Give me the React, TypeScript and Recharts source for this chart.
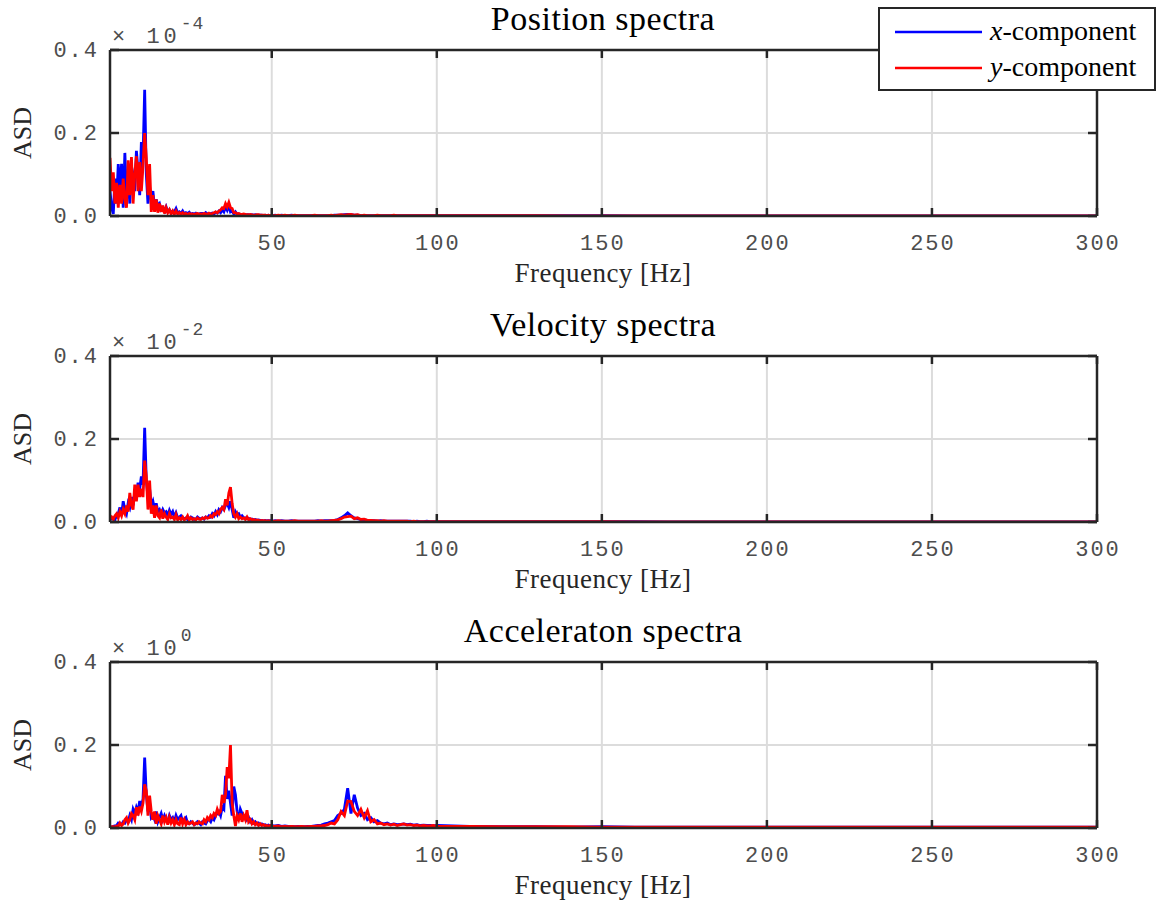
import React from 'react'
import { LineChart, Line, XAxis, YAxis, CartesianGrid } from 'recharts'

// frequency axis [Hz]
const freq = [
  1, 1.5, 2, 2.5, 3, 3.5, 4, 4.5, 5, 5.5,
  6, 6.5, 7, 7.5, 8, 8.5, 9, 9.5, 10, 10.5,
  11, 11.5, 12, 12.5, 13, 13.5, 14, 14.5, 15, 15.5,
  16, 16.5, 17, 17.5, 18, 18.5, 19, 19.5, 20, 20.5,
  21, 21.5, 22, 22.5, 23, 23.5, 24, 24.5, 25, 25.5,
  26, 26.5, 27, 27.5, 28, 28.5, 29, 29.5, 30, 30.5,
  31, 31.5, 32, 32.5, 33, 33.5, 34, 34.5, 35, 35.5,
  36, 36.5, 37, 37.5, 38, 38.5, 39, 39.5, 40, 40.5,
  41, 41.5, 42, 42.5, 43, 43.5, 44, 44.5, 45, 45.5,
  46, 46.5, 47, 47.5, 48, 48.5, 49, 49.5, 50, 50.5,
  51, 52, 53, 54, 55, 56, 57, 58, 59, 60,
  61, 62, 63, 64, 65, 66, 67, 68, 69, 70,
  71, 72, 73, 74, 75, 76, 77, 78, 79, 80,
  81, 82, 83, 84, 85, 86, 87, 88, 89, 90,
  91, 92, 93, 94, 95, 96, 97, 98, 99, 100,
  110, 120, 130, 140, 150, 160, 170, 180, 190, 200,
  210, 220, 230, 240, 250, 260, 270, 280, 290, 300,
]

// position ASD (x 1e-4)
const posX = [
  0.06, 0.02, 0.005, 0.09, 0.03, 0.125, 0.06, 0.126, 0.02, 0.152,
  0.05, 0.09, 0.03, 0.12, 0.1, 0.06, 0.157, 0.11, 0.05, 0.178,
  0.14, 0.304, 0.1, 0.03, 0.07, 0.04, 0.06, 0.02, 0.04, 0.025,
  0.03, 0.015, 0.02, 0.012, 0.022, 0.01, 0.015, 0.008, 0.012, 0.01,
  0.018, 0.007, 0.01, 0.006, 0.012, 0.005, 0.008, 0.006, 0.009, 0.004,
  0.006, 0.005, 0.007, 0.004, 0.005, 0.006, 0.006, 0.004, 0.008, 0.005,
  0.005, 0.006, 0.007, 0.005, 0.009, 0.007, 0.012, 0.008, 0.015, 0.01,
  0.022, 0.014, 0.025, 0.01, 0.012, 0.005, 0.01, 0.004, 0.005, 0.004,
  0.004, 0.003, 0.004, 0.003, 0.003, 0.002, 0.003, 0.002, 0.003, 0.002,
  0.002, 0.002, 0.002, 0.001, 0.002, 0.001, 0.002, 0.001, 0.002, 0.001,
  0.002, 0.001, 0.002, 0.001, 0.001, 0.002, 0.001, 0.001, 0.001, 0.001,
  0.001, 0.001, 0.001, 0.001, 0.001, 0.001, 0.001, 0.001, 0.002, 0.002,
  0.002, 0.003, 0.004, 0.003, 0.002, 0.002, 0.001, 0.001, 0.001, 0.001,
  0.001, 0.001, 0.001, 0.001, 0.001, 0.001, 0.001, 0.001, 0.001, 0.001,
  0.001, 0.001, 0.001, 0.001, 0.001, 0.001, 0.001, 0.001, 0.001, 0.001,
  0.001, 0.001, 0.001, 0.001, 0.001, 0.0005, 0.0005, 0.0005, 0.0005, 0.0005,
  0.0005, 0.0005, 0.0005, 0.0005, 0.0005, 0.0005, 0.0005, 0.0005, 0.0005, 0.0005,
]
const posY = [
  0.14, 0.06, 0.105, 0.03, 0.08, 0.02, 0.075, 0.03, 0.09, 0.04,
  0.02, 0.134, 0.05, 0.142, 0.03, 0.1, 0.144, 0.06, 0.13, 0.06,
  0.12, 0.2, 0.14, 0.05, 0.125, 0.01, 0.05, 0.01, 0.04, 0.008,
  0.03, 0.01, 0.025, 0.006, 0.02, 0.008, 0.015, 0.005, 0.012, 0.004,
  0.012, 0.005, 0.008, 0.004, 0.008, 0.004, 0.006, 0.003, 0.006, 0.004,
  0.005, 0.003, 0.005, 0.006, 0.004, 0.005, 0.004, 0.006, 0.005, 0.004,
  0.007, 0.005, 0.006, 0.008, 0.01, 0.008, 0.012, 0.015, 0.02, 0.018,
  0.03, 0.022, 0.033, 0.02, 0.018, 0.008, 0.008, 0.005, 0.006, 0.004,
  0.004, 0.005, 0.004, 0.003, 0.003, 0.004, 0.003, 0.002, 0.002, 0.003,
  0.003, 0.002, 0.002, 0.002, 0.002, 0.001, 0.002, 0.001, 0.002, 0.001,
  0.001, 0.002, 0.001, 0.002, 0.001, 0.001, 0.002, 0.001, 0.001, 0.001,
  0.001, 0.001, 0.002, 0.001, 0.001, 0.001, 0.001, 0.002, 0.001, 0.002,
  0.003, 0.002, 0.003, 0.004, 0.002, 0.003, 0.001, 0.002, 0.001, 0.001,
  0.001, 0.002, 0.001, 0.001, 0.001, 0.001, 0.002, 0.001, 0.001, 0.001,
  0.001, 0.001, 0.001, 0.001, 0.001, 0.001, 0.001, 0.001, 0.001, 0.001,
  0.001, 0.001, 0.001, 0.0005, 0.0005, 0.0005, 0.0005, 0.0005, 0.0005, 0.0005,
  0.0005, 0.0005, 0.0005, 0.0005, 0.0005, 0.0005, 0.0005, 0.0005, 0.0005, 0.0005,
]

// velocity ASD (x 1e-2)
const velX = [
  0.005, 0.008, 0.01, 0.006, 0.015, 0.02, 0.035, 0.015, 0.05, 0.03,
  0.02, 0.045, 0.035, 0.06, 0.04, 0.07, 0.065, 0.095, 0.08, 0.11,
  0.09, 0.227, 0.1, 0.06, 0.08, 0.04, 0.05, 0.03, 0.045, 0.025,
  0.03, 0.02, 0.03, 0.022, 0.025, 0.015, 0.028, 0.018, 0.025, 0.012,
  0.022, 0.01, 0.012, 0.015, 0.01, 0.008, 0.01, 0.006, 0.008, 0.012,
  0.01, 0.006, 0.007, 0.012, 0.009, 0.008, 0.01, 0.007, 0.012, 0.01,
  0.015, 0.012, 0.02, 0.015, 0.025, 0.018, 0.03, 0.025, 0.035, 0.03,
  0.04, 0.045, 0.035, 0.05, 0.03, 0.01, 0.025, 0.018, 0.02, 0.012,
  0.015, 0.01, 0.01, 0.008, 0.009, 0.006, 0.007, 0.005, 0.006, 0.004,
  0.005, 0.004, 0.004, 0.003, 0.004, 0.003, 0.003, 0.003, 0.003, 0.002,
  0.003, 0.002, 0.003, 0.002, 0.002, 0.003, 0.002, 0.002, 0.002, 0.002,
  0.002, 0.002, 0.002, 0.003, 0.002, 0.003, 0.003, 0.003, 0.004, 0.006,
  0.01, 0.015, 0.022, 0.015, 0.01, 0.008, 0.006, 0.005, 0.004, 0.003,
  0.003, 0.002, 0.003, 0.002, 0.002, 0.002, 0.002, 0.002, 0.002, 0.002,
  0.002, 0.002, 0.001, 0.002, 0.001, 0.001, 0.002, 0.001, 0.001, 0.001,
  0.001, 0.001, 0.001, 0.001, 0.001, 0.001, 0.0005, 0.0005, 0.0005, 0.0005,
  0.0005, 0.0005, 0.0005, 0.0005, 0.0005, 0.0005, 0.0005, 0.0005, 0.0005, 0.0005,
]
const velY = [
  0.008, 0.012, 0.006, 0.015, 0.02, 0.01, 0.025, 0.015, 0.03, 0.02,
  0.04, 0.025, 0.07, 0.04, 0.03, 0.09, 0.05, 0.09, 0.06, 0.08,
  0.06, 0.148, 0.11, 0.03, 0.1, 0.02, 0.04, 0.01, 0.04, 0.015,
  0.01, 0.03, 0.008, 0.02, 0.012, 0.006, 0.02, 0.01, 0.012, 0.006,
  0.018, 0.005, 0.01, 0.006, 0.012, 0.005, 0.008, 0.015, 0.005, 0.01,
  0.006, 0.008, 0.005, 0.01, 0.007, 0.006, 0.01, 0.008, 0.012, 0.009,
  0.01, 0.015, 0.012, 0.02, 0.018, 0.025, 0.02, 0.03, 0.035, 0.03,
  0.055, 0.04, 0.07, 0.084, 0.045, 0.02, 0.012, 0.02, 0.008, 0.012,
  0.008, 0.01, 0.006, 0.012, 0.005, 0.008, 0.005, 0.006, 0.004, 0.005,
  0.004, 0.003, 0.004, 0.003, 0.003, 0.002, 0.003, 0.002, 0.002, 0.002,
  0.002, 0.003, 0.002, 0.002, 0.002, 0.002, 0.003, 0.002, 0.002, 0.002,
  0.002, 0.002, 0.002, 0.002, 0.003, 0.002, 0.002, 0.003, 0.004, 0.005,
  0.008, 0.012, 0.013, 0.014, 0.008, 0.01, 0.006, 0.007, 0.004, 0.004,
  0.003, 0.003, 0.002, 0.003, 0.002, 0.002, 0.002, 0.002, 0.002, 0.002,
  0.002, 0.001, 0.002, 0.001, 0.001, 0.001, 0.001, 0.001, 0.001, 0.001,
  0.001, 0.001, 0.001, 0.001, 0.001, 0.0005, 0.0005, 0.0005, 0.0005, 0.0005,
  0.0005, 0.0005, 0.0005, 0.0005, 0.0005, 0.0005, 0.0005, 0.0005, 0.0005, 0.0005,
]

// acceleration ASD (x 1e0)
const accX = [
  0.003, 0.002, 0.004, 0.005, 0.006, 0.012, 0.01, 0.008, 0.015, 0.012,
  0.02, 0.015, 0.03, 0.02, 0.045, 0.035, 0.05, 0.04, 0.065, 0.05,
  0.07, 0.17, 0.08, 0.04, 0.06, 0.025, 0.03, 0.02, 0.04, 0.015,
  0.025, 0.035, 0.02, 0.03, 0.02, 0.015, 0.03, 0.02, 0.025, 0.015,
  0.03, 0.02, 0.025, 0.03, 0.015, 0.02, 0.025, 0.012, 0.01, 0.015,
  0.012, 0.008, 0.01, 0.015, 0.012, 0.008, 0.015, 0.012, 0.01, 0.018,
  0.02, 0.015, 0.025, 0.02, 0.03, 0.035, 0.04, 0.03, 0.05, 0.045,
  0.126, 0.07, 0.09, 0.06, 0.03, 0.1, 0.08, 0.04, 0.02, 0.045,
  0.035, 0.025, 0.03, 0.02, 0.025, 0.015, 0.02, 0.012, 0.015, 0.01,
  0.012, 0.008, 0.01, 0.007, 0.008, 0.006, 0.007, 0.005, 0.006, 0.005,
  0.005, 0.006, 0.004, 0.005, 0.004, 0.004, 0.003, 0.004, 0.003, 0.003,
  0.004, 0.004, 0.005, 0.006, 0.007, 0.01, 0.012, 0.015, 0.018, 0.03,
  0.035, 0.045, 0.096, 0.035, 0.08, 0.048, 0.03, 0.035, 0.02, 0.025,
  0.015, 0.018, 0.012, 0.01, 0.012, 0.008, 0.01, 0.008, 0.009, 0.01,
  0.008, 0.009, 0.007, 0.008, 0.006, 0.007, 0.006, 0.006, 0.005, 0.006,
  0.004, 0.003, 0.003, 0.002, 0.003, 0.002, 0.002, 0.002, 0.002, 0.002,
  0.002, 0.002, 0.002, 0.002, 0.002, 0.002, 0.002, 0.002, 0.002, 0.002,
]
const accY = [
  0.002, 0.003, 0.003, 0.002, 0.005, 0.004, 0.012, 0.006, 0.01, 0.02,
  0.025, 0.012, 0.02, 0.035, 0.03, 0.02, 0.05, 0.03, 0.052, 0.04,
  0.06, 0.105, 0.09, 0.03, 0.078, 0.04, 0.02, 0.04, 0.01, 0.03,
  0.02, 0.01, 0.03, 0.015, 0.025, 0.008, 0.025, 0.012, 0.02, 0.008,
  0.02, 0.01, 0.008, 0.025, 0.01, 0.02, 0.008, 0.015, 0.01, 0.012,
  0.015, 0.008, 0.012, 0.01, 0.015, 0.012, 0.01, 0.02, 0.015, 0.025,
  0.02, 0.03, 0.025, 0.035, 0.03, 0.045, 0.035, 0.04, 0.08, 0.06,
  0.08, 0.147, 0.12, 0.2, 0.06, 0.03, 0.005, 0.03, 0.02, 0.035,
  0.015, 0.03, 0.02, 0.043, 0.015, 0.02, 0.01, 0.015, 0.008, 0.012,
  0.006, 0.01, 0.006, 0.008, 0.005, 0.006, 0.004, 0.006, 0.005, 0.004,
  0.004, 0.005, 0.003, 0.004, 0.003, 0.004, 0.003, 0.003, 0.004, 0.003,
  0.003, 0.004, 0.004, 0.005, 0.005, 0.006, 0.008, 0.012, 0.01, 0.02,
  0.04, 0.03, 0.065, 0.064, 0.04, 0.03, 0.045, 0.025, 0.042, 0.015,
  0.02, 0.01, 0.012, 0.008, 0.01, 0.007, 0.009, 0.006, 0.008, 0.01,
  0.007, 0.008, 0.006, 0.007, 0.005, 0.006, 0.005, 0.005, 0.006, 0.004,
  0.004, 0.003, 0.003, 0.003, 0.002, 0.002, 0.002, 0.002, 0.002, 0.002,
  0.002, 0.002, 0.002, 0.002, 0.002, 0.002, 0.002, 0.002, 0.002, 0.002,
]

const xTicks = [50, 100, 150, 200, 250, 300]
const yTicks = [0, 0.2, 0.4]

const panels = [
  { title: 'Position spectra', exp: '-4', xKey: 'posX', yKey: 'posY' },
  { title: 'Velocity spectra', exp: '-2', xKey: 'velX', yKey: 'velY' },
  { title: 'Acceleraton spectra', exp: '0', xKey: 'accX', yKey: 'accY' },
]

const rows = freq.map((f, i) => ({
  f,
  posX: posX[i],
  posY: posY[i],
  velX: velX[i],
  velY: velY[i],
  accX: accX[i],
  accY: accY[i],
}))

const mono = '"Liberation Mono", "DejaVu Sans Mono", monospace'
const serif = '"Liberation Serif", serif'
const ink = '#262626'
const frame = { stroke: ink, strokeWidth: 2.5 }
const labelProps = { fontFamily: mono, fontSize: 22, fill: '#4d4d4d', letterSpacing: 2 }

// MATLAB style: tick marks point into the axes
const BottomTick = ({ x, y, payload }: any) => (
  <g>
    <line x1={x} x2={x} y1={y} y2={y - 8} stroke={ink} strokeWidth={2.5} />
    <text x={x + 1} y={y + 34} textAnchor="middle" {...labelProps}>{payload.value}</text>
  </g>
)
const TopTick = ({ x, y }: any) => <line x1={x} x2={x} y1={y} y2={y + 8} stroke={ink} strokeWidth={2.5} />
const LeftTick = ({ x, y, payload }: any) => (
  <g>
    <line x1={x} x2={x + 9} y1={y} y2={y} stroke={ink} strokeWidth={2.5} />
    <text x={x - 11} y={y + 7} textAnchor="end" {...labelProps}>{payload.value.toFixed(1)}</text>
  </g>
)
const RightTick = ({ x, y }: any) => <line x1={x} x2={x - 9} y1={y} y2={y} stroke={ink} strokeWidth={2.5} />

const Panel = ({ top, xKey, yKey }: { top: number; xKey: string; yKey: string }) => (
  <div style={{ position: 'absolute', left: 0, top }}>
    <LineChart width={1156} height={300} data={rows} margin={{ top: 40, right: 49, left: 50, bottom: 24 }}>
      <CartesianGrid stroke="#dcdcdc" strokeWidth={2} />
      <XAxis
        dataKey="f" type="number" domain={[1, 300]} ticks={xTicks} interval={0} allowDataOverflow
        height={60} axisLine={frame} tickLine={false} tickSize={0} tickMargin={0} tick={<BottomTick />}
      />
      <XAxis
        xAxisId="top" orientation="top" dataKey="f" type="number" domain={[1, 300]} ticks={xTicks} interval={0}
        allowDataOverflow height={10} axisLine={frame} tickLine={false} tickSize={0} tickMargin={0} tick={<TopTick />}
      />
      <YAxis
        type="number" domain={[0, 0.4]} ticks={yTicks} interval={0} allowDataOverflow width={60}
        axisLine={frame} tickLine={false} tickSize={0} tickMargin={0} tick={<LeftTick />}
      />
      <YAxis
        yAxisId="right" orientation="right" type="number" domain={[0, 0.4]} ticks={yTicks} interval={0}
        allowDataOverflow width={10} axisLine={frame} tickLine={false} tickSize={0} tickMargin={0} tick={<RightTick />}
      />
      <Line type="linear" dataKey={xKey} stroke="#0000ff" strokeWidth={2.8} dot={false} isAnimationActive={false} />
      <Line type="linear" dataKey={yKey} stroke="#ff0000" strokeWidth={2.8} dot={false} isAnimationActive={false} />
    </LineChart>
  </div>
)

export default function App() {
  return (
    <div style={{ position: 'absolute', left: 0, top: 0, width: 1156, height: 906, background: '#fff' }}>
      {panels.map((p, i) => (
        <Panel key={p.title} top={306 * i} xKey={p.xKey} yKey={p.yKey} />
      ))}
      <svg width={1156} height={906} style={{ position: 'absolute', left: 0, top: 0, pointerEvents: 'none' }}>
        {panels.map((p, i) => {
          const t = 50 + 306 * i
          return (
            <g key={p.title}>
              <text x={603} y={t - 20} textAnchor="middle" fontFamily={serif} fontSize={34} letterSpacing={0.5} fill="#000">
                {p.title}
              </text>
              <text x={603} y={t + 232} textAnchor="middle" fontFamily={serif} fontSize={27} letterSpacing={0.5} fill={ink}>
                Frequency [Hz]
              </text>
              <text
                transform={`translate(31, ${t + 83}) rotate(-90)`}
                textAnchor="middle" fontFamily={serif} fontSize={26} fill={ink}
              >
                ASD
              </text>
              <text x={112} y={t - 7} fontFamily={mono} fontSize={22} fill="#4d4d4d" letterSpacing={4}>
                × 10
                <tspan dy={-14} fontSize={18} letterSpacing={1}>{p.exp}</tspan>
              </text>
            </g>
          )
        })}
        <rect x={879} y={8} width={276} height={82} fill="#fff" stroke={ink} strokeWidth={2} />
        <line x1={895} x2={982} y1={32} y2={32} stroke="#0000ff" strokeWidth={2.5} />
        <line x1={895} x2={982} y1={68} y2={68} stroke="#ff0000" strokeWidth={2.5} />
        <text x={990} y={40} fontFamily={serif} fontSize={28} fill="#000">
          <tspan fontStyle="italic">x</tspan>-component
        </text>
        <text x={990} y={76} fontFamily={serif} fontSize={28} fill="#000">
          <tspan fontStyle="italic">y</tspan>-component
        </text>
      </svg>
    </div>
  )
}
